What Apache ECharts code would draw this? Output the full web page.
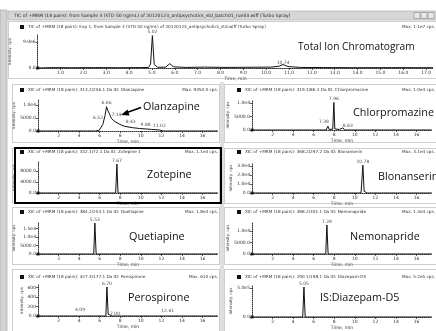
<!DOCTYPE html>
<html>
<head>
<meta charset="utf-8">
<script src="https://cdn.jsdelivr.net/npm/echarts@6/dist/echarts.min.js"></script>
<style>
  html, body { margin: 0; padding: 0; background: #fff; }
  #chart { width: 436px; height: 331px; }
</style>
</head>
<body>
<div id="chart"></div>
<script>
// ---- retention-time ticks (min) ----
const ticTimeTicks = [1, 2, 3, 4, 5, 6, 7, 8, 9, 10, 11, 12, 13, 14, 15, 16, 17];
const xicTimeTicks = [2, 4, 6, 8, 10, 12, 14, 16];

// ---- intensity ticks (cps) ----
const ticIntensityTicks = [0, 9.0e6];
const olanzapineIntensityTicks = [0, 5000, 10000];
const chlorpromazineIntensityTicks = [0, 5000, 10000];
const zotepineIntensityTicks = [0, 4000, 8000];
const blonanserinIntensityTicks = [0, 1e4, 2e4, 3e4];
const quetiapineIntensityTicks = [0, 5000, 1e4, 1.5e4];
const nemonaprideIntensityTicks = [0, 5000, 1e4];
const perospironeIntensityTicks = [0, 200, 400, 600];
const diazepamIntensityTicks = [0, 5e5];

// ---- compound names ----
const compoundNames = ['Total Ion Chromatogram', 'Olanzapine', 'Chlorpromazine', 'Zotepine',
  'Blonanserin', 'Quetiapine', 'Nemonapride', 'Perospirone', 'IS:Diazepam-D5'];

// ---- traces: [time (min), intensity (cps)] ----
const ticTrace = [
  [0.0, 0], [0.6, 1.2e5], [1.5, 0.9e5], [2.5, 1.3e5], [3.5, 1.0e5], [4.5, 1.4e5], [4.85, 2.0e5],
  [4.94, 1.4e6], [5.02, 11.2e6], [5.10, 1.2e6], [5.25, 2.5e5], [5.60, 3.0e5], [5.78, 1.5e6],
  [5.95, 4.0e5], [6.50, 2.0e5], [7.30, 3.0e5], [8.20, 2.0e5], [9.20, 2.5e5], [10.2, 3.0e5],
  [10.55, 6.0e5], [10.74, 1.2e6], [10.95, 5.0e5], [11.5, 2.0e5], [12.5, 1.5e5], [14.0, 1.0e5],
  [15.5, 1.2e5], [17.3, 1.0e5]
];
const olanzapineTrace = [
  [0, 0], [5.60, 0], [5.95, 300], [6.30, 2500], [6.52, 6000], [6.66, 9350], [6.80, 7800],
  [7.00, 6150], [7.14, 4800], [7.48, 3600], [7.80, 2900], [8.10, 2300], [8.43, 1800],
  [9.20, 1270], [9.88, 950], [10.55, 770], [11.02, 600], [11.80, 380], [12.20, 0], [17.5, 0]
];
const chlorpromazineTrace = [
  [0, 0], [7.20, 0], [7.38, 1400], [7.50, 200], [7.85, 300], [7.96, 10200], [8.05, 400],
  [8.50, 200], [8.83, 800], [9.00, 0], [17.5, 0]
];
const zotepineTrace = [[0, 0], [7.55, 0], [7.67, 10500], [7.78, 0], [17.5, 0]];
const blonanserinTrace = [
  [0, 0], [10.60, 0], [10.78, 31000], [10.90, 2000], [11.05, 1000], [11.20, 0], [17.5, 0]
];
const quetiapineTrace = [[0, 0], [5.42, 0], [5.53, 18200], [5.65, 0], [17.5, 0]];
const nemonaprideTrace = [[0, 0], [7.17, 0], [7.28, 12600], [7.40, 0], [17.5, 0]];
const perospironeTrace = [
  [0, 0], [3.95, 0], [4.09, 25], [4.20, 0], [6.60, 0], [6.70, 610], [6.82, 40], [7.00, 25],
  [7.20, 0], [12.50, 0], [12.61, 20], [12.75, 0], [17.5, 0]
];
const diazepamTrace = [[0, 0], [4.93, 0], [5.05, 517000], [5.17, 0], [17.5, 0]];

// ---- labelled peak retention times (min) ----
const ticPeaks = [5.02, 10.74];
const olanzapinePeaks = [6.52, 6.66, 7.14, 8.43, 9.88, 11.02];
const chlorpromazinePeaks = [7.38, 7.96, 8.83];
const zotepinePeaks = [7.67];
const blonanserinPeaks = [10.78];
const quetiapinePeaks = [5.53];
const nemonapridePeaks = [7.28];
const perospironePeaks = [4.09, 6.70, 7.00, 12.61];
const diazepamPeaks = [5.05];

// ---- panel header captions ----
const windowTitle = 'TIC of +MRM (18 pairs): from Sample 3 (STD 50 ng/mL) of 20120123_antipsychotics_std_batch01_run03.wiff (Turbo Spray)';
const headerTexts = [
  'TIC of +MRM (18 pairs): Exp 1, from Sample 3 (STD 50 ng/mL) of 20120123_antipsychotics_std.wiff (Turbo Spray)',
  'XIC of +MRM (18 pairs): 313.2/256.1 Da ID: Olanzapine',
  'XIC of +MRM (18 pairs): 319.1/86.1 Da ID: Chlorpromazine',
  'XIC of +MRM (18 pairs): 332.1/72.1 Da ID: Zotepine 1',
  'XIC of +MRM (18 pairs): 368.2/297.2 Da ID: Blonanserin',
  'XIC of +MRM (18 pairs): 384.2/253.1 Da ID: Quetiapine',
  'XIC of +MRM (18 pairs): 388.2/301.1 Da ID: Nemonapride',
  'XIC of +MRM (18 pairs): 427.3/177.1 Da ID: Perospirone',
  'XIC of +MRM (18 pairs): 290.1/198.1 Da ID: Diazepam-D5'
];

const traces = [ticTrace, olanzapineTrace, chlorpromazineTrace, zotepineTrace, blonanserinTrace,
  quetiapineTrace, nemonaprideTrace, perospironeTrace, diazepamTrace];
const peaks = [ticPeaks, olanzapinePeaks, chlorpromazinePeaks, zotepinePeaks, blonanserinPeaks,
  quetiapinePeaks, nemonapridePeaks, perospironePeaks, diazepamPeaks];
const yTicks = [ticIntensityTicks, olanzapineIntensityTicks, chlorpromazineIntensityTicks,
  zotepineIntensityTicks, blonanserinIntensityTicks, quetiapineIntensityTicks,
  nemonaprideIntensityTicks, perospironeIntensityTicks, diazepamIntensityTicks];

// ---- layout of the nine plot panes ----
const panes = [
  { grid: { left: 37, top: 35, width: 396, height: 33 }, xMax: 17.3, yMax: 11.42e6, yNameGap: 20,
    panel: [8, 21, 437, 79], header: 27, name: [298, 47, 10.2] },
  { grid: { left: 38, top: 100, width: 180, height: 31 }, xMax: 17.5, yMax: 11923, yNameGap: 9,
    panel: [12, 84, 220, 143], header: 90, name: [143, 107, 10.8] },
  { grid: { left: 252, top: 100, width: 180, height: 30 }, xMax: 17.5, yMax: 11111, yNameGap: 9,
    panel: [224, 84, 437, 143], header: 90, name: [353, 113, 10.8] },
  { grid: { left: 38, top: 162, width: 180, height: 31 }, xMax: 17.5, yMax: 11273, yNameGap: 9,
    panel: [12, 148, 220, 203], header: 152, name: [147, 175, 10.8] },
  { grid: { left: 252, top: 163, width: 180, height: 30 }, xMax: 17.5, yMax: 33333, yNameGap: 9,
    panel: [224, 148, 437, 204], header: 152, name: [378, 177, 10.8] },
  { grid: { left: 38, top: 222, width: 180, height: 32 }, xMax: 17.5, yMax: 18823, yNameGap: 9,
    panel: [12, 207, 220, 265], header: 212, name: [129, 237, 10.8] },
  { grid: { left: 252, top: 222, width: 180, height: 32 }, xMax: 17.5, yMax: 13913, yNameGap: 9,
    panel: [224, 207, 437, 265], header: 212, name: [350, 237, 10.8] },
  { grid: { left: 38, top: 285, width: 180, height: 31 }, xMax: 17.5, yMax: 652, yNameGap: 9,
    panel: [12, 269, 220, 332], header: 277, name: [128, 298, 10.8] },
  { grid: { left: 252, top: 285, width: 180, height: 32 }, xMax: 17.5, yMax: 551724, yNameGap: 9,
    panel: [224, 269, 437, 332], header: 277, name: [320, 298, 10.8] }
];

// where each peak's retention-time label sits relative to its apex
const peakLabelPlacement = [
  [['top', [0, 0]], ['top', [0, 2]]],
  [['left', [-1, 2]], ['top', [0, 0]], ['right', [-1, -4]], ['top', [6, -1]], ['top', [6, 0]], ['top', [8, 0]]],
  [['top', [-4, -1]], ['top', [0, 0]], ['right', [-1, -2]]],
  [['top', [0, 0]]],
  [['top', [0, 0]]],
  [['top', [0, 0]]],
  [['top', [0, 0]]],
  [['top', [0, -1]], ['top', [0, 0]], ['right', [-1, -1]], ['top', [0, -1]]],
  [['top', [0, 0]]]
];

const tinyFont = 'DejaVu Sans';
const tinySize = 4.5;
const ink = '#1a1a1a';

function fmtIntensity(v) {
  if (v === 0) return '0.0';
  if (v >= 1e4) return v.toExponential(1).replace('+', '');
  if (v >= 1000) return v.toFixed(1);
  return String(Math.round(v));
}

const grids = [], xAxes = [], yAxes = [], series = [];

panes.forEach((p, i) => {
  grids.push(Object.assign({ containLabel: false }, p.grid));
  const tTicks = i === 0 ? ticTimeTicks : xicTimeTicks;
  xAxes.push({
    gridIndex: i, type: 'value', min: 0, max: p.xMax,
    axisLine: { show: true, onZero: true, lineStyle: { color: '#333', width: 1, type: [1, 1] } },
    axisTick: { show: true, customValues: tTicks, length: 2, lineStyle: { color: '#333', width: 0.8 } },
    axisLabel: {
      customValues: tTicks, fontSize: tinySize, fontFamily: tinyFont, color: '#333', margin: 2,
      formatter: v => (i === 0 ? v.toFixed(1) : String(v))
    },
    splitLine: { show: false },
    name: 'Time, min', nameLocation: 'middle', nameGap: 7,
    nameTextStyle: { fontSize: tinySize, fontFamily: tinyFont, color: '#333' }
  });
  yAxes.push({
    gridIndex: i, type: 'value', min: 0, max: p.yMax,
    axisLine: { show: true, lineStyle: { color: '#333', width: 1, type: [1, 1] } },
    axisTick: { show: true, customValues: yTicks[i], length: 2, lineStyle: { color: '#333', width: 0.8 } },
    axisLabel: {
      customValues: yTicks[i], fontSize: tinySize, fontFamily: tinyFont, color: '#333', margin: 2,
      formatter: fmtIntensity
    },
    splitLine: { show: false },
    name: 'Intensity, cps', nameLocation: 'middle', nameRotate: 90, nameGap: p.yNameGap,
    nameTextStyle: { fontSize: 4, fontFamily: tinyFont, color: '#444' }
  });

  series.push({
    type: 'line', xAxisIndex: i, yAxisIndex: i, data: traces[i],
    showSymbol: false, symbol: 'none', smooth: false, animation: false,
    lineStyle: { color: '#111', width: 1 }, z: 3
  });

  // retention-time labels placed on the trace points they name
  const labelData = peaks[i].map((rt, k) => {
    const pt = traces[i].find(d => Math.abs(d[0] - rt) < 1e-9);
    const [pos, off] = peakLabelPlacement[i][k];
    return {
      value: [rt, pt ? pt[1] : 0],
      label: { position: pos, offset: off }
    };
  });
  series.push({
    type: 'scatter', xAxisIndex: i, yAxisIndex: i, data: labelData,
    symbolSize: 0, animation: false, silent: true, z: 4,
    label: {
      show: true, distance: 1, fontSize: tinySize, fontFamily: tinyFont, color: ink,
      formatter: prm => prm.value[0].toFixed(2)
    }
  });

  // origin marker
  series.push({
    type: 'scatter', xAxisIndex: i, yAxisIndex: i, data: [[0, 0]],
    symbol: 'rect', symbolSize: 3, itemStyle: { color: '#000' }, animation: false, silent: true, z: 5
  });
});

// ---- window chrome, panel frames, captions ----
const graphics = [];
// window frame on the left and title bar
graphics.push({ type: 'rect', shape: { x: 0, y: 10, width: 7, height: 322 },
  style: { fill: '#d2d2d2', stroke: '#9a9a9a', lineWidth: 0.6 }, z: 0 });
graphics.push({ type: 'rect', shape: { x: 8, y: 11, width: 429, height: 9 },
  style: { fill: '#d6d6d6', stroke: '#a8a8a8', lineWidth: 0.6 }, z: 0 });
graphics.push({ type: 'text', x: 14, y: 15.5,
  style: { text: windowTitle, fontSize: 4.5, fontFamily: tinyFont, fill: '#222', verticalAlign: 'middle' }, z: 2 });
[414, 421, 428].forEach(bx => graphics.push({ type: 'rect', shape: { x: bx, y: 12.5, width: 6, height: 6 },
  style: { fill: '#e8e8e8', stroke: '#8a8a8a', lineWidth: 0.6 }, z: 1 }));
// splitter between the two columns
graphics.push({ type: 'rect', shape: { x: 220, y: 82, width: 4, height: 250 },
  style: { fill: '#dedede' }, z: 0 });

panes.forEach((p, i) => {
  const [x0, y0, x1, y1] = p.panel;
  graphics.push({ type: 'rect', shape: { x: x0 + 0.5, y: y0 + 0.5, width: x1 - x0 - 1, height: y1 - y0 - 1 },
    style: { fill: 'none', stroke: '#9c9c9c', lineWidth: 1, lineDash: [1, 1] }, z: 1 });
  const iconX = x0 + (i === 0 ? 12 : (i % 2 === 1 ? 8 : 13));
  graphics.push({ type: 'rect', shape: { x: iconX, y: p.header - 2, width: 4, height: 4 },
    style: { fill: '#111' }, z: 2 });
  graphics.push({ type: 'text', x: iconX + 8, y: p.header,
    style: { text: headerTexts[i], fontSize: 4.2, fontFamily: tinyFont, fill: '#333', verticalAlign: 'middle' }, z: 2 });
  const peakMax = Math.max(...traces[i].map(d => d[1]));
  graphics.push({ type: 'text', x: Math.min(x1 - 2, 436), y: p.header,
    style: { text: 'Max. ' + fmtIntensity(peakMax) + ' cps.', fontSize: 4.2, fontFamily: tinyFont,
      fill: '#333', align: 'right', verticalAlign: 'middle' }, z: 2 });
  const [nx, ny, ns] = p.name;
  graphics.push({ type: 'text', x: nx, y: ny,
    style: { text: compoundNames[i], fontSize: ns, fontFamily: 'Open Sans', fill: '#111',
      align: 'left', verticalAlign: 'middle' }, z: 6 });
});

// highlighted (selected) pane
graphics.push({ type: 'rect', shape: { x: 15, y: 148, width: 206, height: 55 },
  style: { fill: 'none', stroke: '#000', lineWidth: 2 }, z: 7 });

// arrow from the Olanzapine caption to its trace
graphics.push({ type: 'line', shape: { x1: 141, y1: 107.5, x2: 127, y2: 112.5 },
  style: { stroke: '#000', lineWidth: 1.6 }, z: 6 });
graphics.push({ type: 'polygon', shape: { points: [[121, 115], [127.5, 109.5], [129.5, 115.5]] },
  style: { fill: '#000' }, z: 6 });

const chart = echarts.init(document.getElementById('chart'), null, { renderer: 'canvas' });
chart.setOption({
  animation: false,
  backgroundColor: '#ffffff',
  grid: grids,
  xAxis: xAxes,
  yAxis: yAxes,
  series: series,
  graphic: graphics
});
</script>
</body>
</html>
